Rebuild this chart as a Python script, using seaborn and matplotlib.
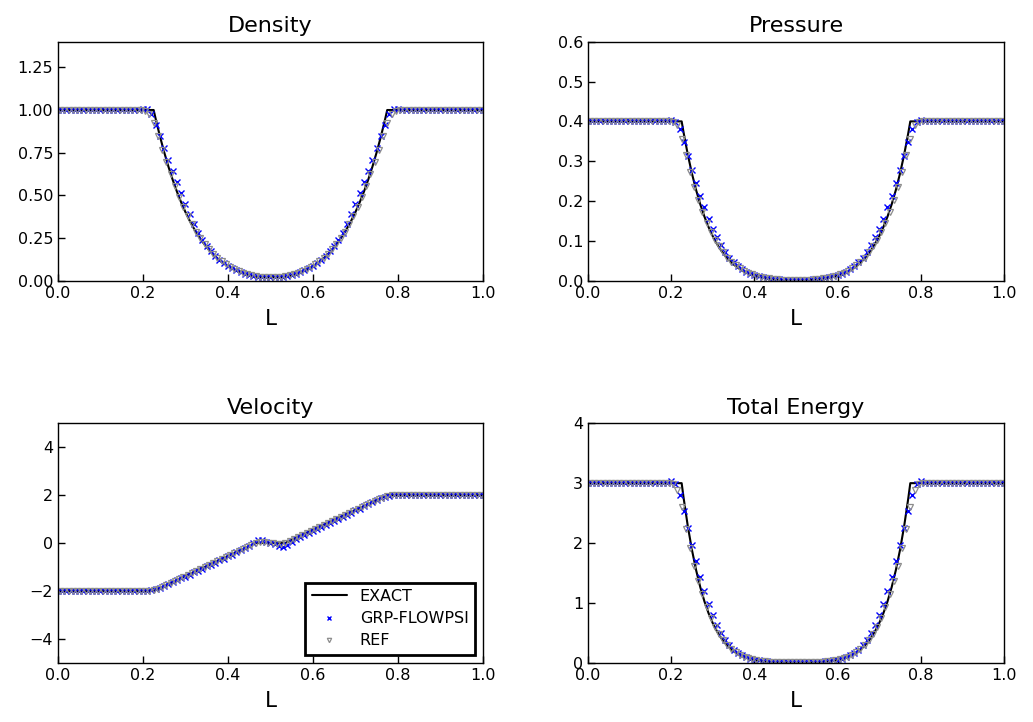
import numpy as np
import matplotlib
matplotlib.use("Agg")
import matplotlib.pyplot as plt
from matplotlib.ticker import FormatStrFormatter
import seaborn as sns

# ---------------------------------------------------------------------------
# Data: 1D double-rarefaction test, exact solution and two numerical schemes
# ---------------------------------------------------------------------------

# Exact solution sampled along the domain
x_exact = [0.0, 0.2252, 0.23, 0.24, 0.25, 0.26, 0.27, 0.28, 0.29, 0.30, 0.31,
           0.32, 0.33, 0.34, 0.35, 0.36, 0.37, 0.38, 0.39, 0.40, 0.41, 0.42,
           0.43, 0.44, 0.45, 0.46, 0.4652, 0.5348, 0.54, 0.55, 0.56, 0.57,
           0.58, 0.59, 0.60, 0.61, 0.62, 0.63, 0.64, 0.65, 0.66, 0.67, 0.68,
           0.69, 0.70, 0.71, 0.72, 0.73, 0.74, 0.75, 0.76, 0.77, 0.7748, 1.0]

rho_exact = [1.0, 1.0, 0.9477, 0.8457, 0.7527, 0.6681, 0.5912, 0.5216, 0.4587,
             0.4020, 0.3511, 0.3055, 0.2647, 0.2284, 0.1962, 0.1678, 0.1427,
             0.1208, 0.1016, 0.0849, 0.0705, 0.0581, 0.0476, 0.0386, 0.0310,
             0.0247, 0.0219, 0.0219, 0.0247, 0.0310, 0.0386, 0.0476, 0.0581,
             0.0705, 0.0849, 0.1016, 0.1208, 0.1427, 0.1678, 0.1962, 0.2284,
             0.2647, 0.3055, 0.3511, 0.4020, 0.4587, 0.5216, 0.5912, 0.6681,
             0.7527, 0.8457, 0.9477, 1.0, 1.0]

p_exact = [0.4, 0.4, 0.3710, 0.3163, 0.2687, 0.2274, 0.1916, 0.1608, 0.1343,
           0.1117, 0.0924, 0.0760, 0.0622, 0.0506, 0.0409, 0.0329, 0.0262,
           0.0207, 0.0163, 0.0127, 0.0098, 0.0075, 0.0056, 0.0042, 0.0031,
           0.0022, 0.0019, 0.0019, 0.0022, 0.0031, 0.0042, 0.0056, 0.0075,
           0.0098, 0.0127, 0.0163, 0.0207, 0.0262, 0.0329, 0.0409, 0.0506,
           0.0622, 0.0760, 0.0924, 0.1117, 0.1343, 0.1608, 0.1916, 0.2274,
           0.2687, 0.3163, 0.3710, 0.4, 0.4]

u_exact = [-2.0, -2.0, -1.960, -1.876, -1.793, -1.710, -1.626, -1.543, -1.460,
           -1.376, -1.293, -1.210, -1.126, -1.043, -0.960, -0.876, -0.793,
           -0.710, -0.626, -0.543, -0.460, -0.376, -0.293, -0.210, -0.126,
           -0.043, 0.0, 0.0, 0.043, 0.126, 0.210, 0.293, 0.376, 0.460, 0.543,
           0.626, 0.710, 0.793, 0.876, 0.960, 1.043, 1.126, 1.210, 1.293,
           1.376, 1.460, 1.543, 1.626, 1.710, 1.793, 1.876, 1.960, 2.0, 2.0]

e_exact = [3.0, 3.0, 2.7475, 2.2796, 1.8819, 1.545, 1.261, 1.023, 0.8246,
           0.6601, 0.5245, 0.4136, 0.3235, 0.2508, 0.1927, 0.1466, 0.1104,
           0.0822, 0.0606, 0.0442, 0.0318, 0.0227, 0.0161, 0.0113, 0.0080,
           0.0057, 0.0047, 0.0047, 0.0057, 0.0080, 0.0113, 0.0161, 0.0227,
           0.0318, 0.0442, 0.0606, 0.0822, 0.1104, 0.1466, 0.1927, 0.2508,
           0.3235, 0.4136, 0.5245, 0.6601, 0.8246, 1.023, 1.261, 1.545,
           1.8819, 2.2796, 2.7475, 3.0, 3.0]

# GRP-FLOWPSI results, stored at mesh nodes
x_grp = np.linspace(0.0, 1.0, 101)

rho_grp = ([1.0] * 19 +
           [1.003, 1.008, 1.005, 0.975, 0.915, 0.848, 0.775, 0.708, 0.643,
            0.579, 0.516, 0.450, 0.388, 0.330, 0.281, 0.238, 0.202, 0.172,
            0.146, 0.124, 0.104, 0.087, 0.072, 0.060, 0.049, 0.040, 0.033,
            0.028, 0.024, 0.022, 0.021, 0.021] +
           [0.021, 0.022, 0.024, 0.028, 0.033, 0.040, 0.049, 0.060, 0.072,
            0.087, 0.104, 0.124, 0.146, 0.172, 0.202, 0.238, 0.281, 0.330,
            0.388, 0.450, 0.516, 0.579, 0.643, 0.708, 0.775, 0.848, 0.915,
            0.975, 1.005, 1.008, 1.003] +
           [1.0] * 19)

p_grp = ([0.4] * 19 +
         [0.402, 0.404, 0.399, 0.381, 0.348, 0.314, 0.279, 0.245, 0.212,
          0.184, 0.156, 0.131, 0.110, 0.090, 0.071, 0.058, 0.046, 0.037,
          0.029, 0.023, 0.018, 0.014, 0.011, 0.0085, 0.0066, 0.0052, 0.0041,
          0.0033, 0.0028, 0.0025, 0.0024, 0.0024] +
         [0.0024, 0.0025, 0.0028, 0.0033, 0.0041, 0.0052, 0.0066, 0.0085,
          0.011, 0.014, 0.018, 0.023, 0.029, 0.037, 0.046, 0.058, 0.071,
          0.090, 0.110, 0.131, 0.156, 0.184, 0.212, 0.245, 0.279, 0.314,
          0.348, 0.381, 0.399, 0.404, 0.402] +
         [0.4] * 19)

u_grp = ([-2.0] * 19 +
         [-2.0, -2.0, -1.99, -1.96, -1.92, -1.86, -1.79, -1.72, -1.64, -1.56,
          -1.48, -1.40, -1.32, -1.23, -1.15, -1.07, -0.98, -0.90, -0.82,
          -0.73, -0.65, -0.56, -0.48, -0.39, -0.30, -0.21, -0.11, 0.01, 0.12,
          0.11, 0.05, 0.0] +
         [-0.05, -0.11, -0.15, -0.09, 0.04, 0.15, 0.24, 0.33, 0.42, 0.51,
          0.59, 0.68, 0.76, 0.85, 0.93, 1.02, 1.10, 1.19, 1.27, 1.36, 1.44,
          1.53, 1.61, 1.70, 1.78, 1.86, 1.93, 1.97, 1.99, 2.0, 2.0] +
         [2.0] * 19)

e_grp = ([3.0] * 19 +
         [3.01, 3.03, 2.99, 2.80, 2.54, 2.25, 1.97, 1.70, 1.44, 1.20, 0.98,
          0.80, 0.63, 0.49, 0.38, 0.29, 0.22, 0.165, 0.125, 0.093, 0.069,
          0.051, 0.038, 0.028, 0.021, 0.016, 0.012, 0.0095, 0.0078, 0.0068,
          0.0063, 0.0062] +
         [0.0063, 0.0068, 0.0078, 0.0095, 0.012, 0.016, 0.021, 0.028, 0.038,
          0.051, 0.069, 0.093, 0.125, 0.165, 0.22, 0.29, 0.38, 0.49, 0.63,
          0.80, 0.98, 1.20, 1.44, 1.70, 1.97, 2.25, 2.54, 2.80, 2.99, 3.03,
          3.01] +
         [3.0] * 19)

# Reference scheme, stored at cell centres
x_ref = np.linspace(0.005, 0.995, 100)

rho_ref = ([1.0] * 19 +
           [0.999, 0.995, 0.975, 0.922, 0.846, 0.768, 0.698, 0.628, 0.557,
            0.491, 0.432, 0.378, 0.330, 0.287, 0.249, 0.215, 0.185, 0.158,
            0.135, 0.114, 0.096, 0.081, 0.067, 0.056, 0.046, 0.038, 0.032,
            0.027, 0.024, 0.023, 0.022] +
           [0.022, 0.023, 0.024, 0.027, 0.032, 0.038, 0.046, 0.056, 0.067,
            0.081, 0.096, 0.114, 0.135, 0.158, 0.185, 0.215, 0.249, 0.287,
            0.330, 0.378, 0.432, 0.491, 0.557, 0.628, 0.698, 0.768, 0.846,
            0.922, 0.975, 0.995, 0.999] +
           [1.0] * 19)

p_ref = ([0.4] * 19 +
         [0.401, 0.399, 0.390, 0.355, 0.315, 0.274, 0.236, 0.202, 0.172,
          0.146, 0.123, 0.103, 0.086, 0.071, 0.058, 0.048, 0.039, 0.031,
          0.025, 0.020, 0.016, 0.012, 0.0095, 0.0073, 0.0057, 0.0045, 0.0036,
          0.0030, 0.0027, 0.0025, 0.0025] +
         [0.0025, 0.0025, 0.0027, 0.0030, 0.0036, 0.0045, 0.0057, 0.0073,
          0.0095, 0.012, 0.016, 0.020, 0.025, 0.031, 0.039, 0.048, 0.058,
          0.071, 0.086, 0.103, 0.123, 0.146, 0.172, 0.202, 0.236, 0.274,
          0.315, 0.355, 0.390, 0.399, 0.401] +
         [0.4] * 19)

u_ref = ([-2.0] * 19 +
         [-2.0, -2.0, -1.99, -1.96, -1.90, -1.83, -1.75, -1.665, -1.58,
          -1.50, -1.415, -1.33, -1.25, -1.165, -1.08, -1.00, -0.915, -0.83,
          -0.75, -0.665, -0.58, -0.50, -0.415, -0.33, -0.245, -0.16, -0.07,
          0.02, 0.06, 0.04, 0.01] +
         [-0.01, -0.04, -0.06, -0.02, 0.07, 0.16, 0.245, 0.33, 0.415, 0.50,
          0.58, 0.665, 0.75, 0.83, 0.915, 1.00, 1.08, 1.165, 1.25, 1.33,
          1.415, 1.50, 1.58, 1.665, 1.75, 1.83, 1.90, 1.96, 1.99, 2.0, 2.0] +
         [2.0] * 19)

e_ref = ([3.0] * 19 +
         [3.0, 2.99, 2.88, 2.61, 2.24, 1.91, 1.61, 1.36, 1.14, 0.93, 0.75,
          0.60, 0.475, 0.375, 0.29, 0.225, 0.173, 0.132, 0.10, 0.075, 0.056,
          0.042, 0.031, 0.023, 0.017, 0.013, 0.010, 0.008, 0.0068, 0.0063,
          0.0062] +
         [0.0062, 0.0063, 0.0068, 0.008, 0.010, 0.013, 0.017, 0.023, 0.031,
          0.042, 0.056, 0.075, 0.10, 0.132, 0.173, 0.225, 0.29, 0.375, 0.475,
          0.60, 0.75, 0.93, 1.14, 1.36, 1.61, 1.91, 2.24, 2.61, 2.88, 2.99,
          3.0] +
         [3.0] * 19)

titles = ["Density", "Pressure", "Velocity", "Total Energy"]
exact_series = [rho_exact, p_exact, u_exact, e_exact]
grp_series = [rho_grp, p_grp, u_grp, e_grp]
ref_series = [rho_ref, p_ref, u_ref, e_ref]
y_limits = [(0.0, 1.4), (0.0, 0.6), (-5.0, 5.0), (0.0, 4.0)]
y_ticks = [[0.0, 0.25, 0.5, 0.75, 1.0, 1.25],
           [0.0, 0.1, 0.2, 0.3, 0.4, 0.5, 0.6],
           [-4, -2, 0, 2, 4],
           [0, 1, 2, 3, 4]]
y_formats = ["%.2f", "%.1f", None, "%d"]
x_ticks = [0.0, 0.2, 0.4, 0.6, 0.8, 1.0]

# ---------------------------------------------------------------------------
# Figure
# ---------------------------------------------------------------------------
sns.set_theme(style="ticks")
plt.rcParams["font.family"] = ["DejaVu Sans"]
plt.rcParams["text.color"] = "black"
plt.rcParams["axes.labelcolor"] = "black"
plt.rcParams["xtick.color"] = "black"
plt.rcParams["ytick.color"] = "black"

fig = plt.figure(figsize=(10.33, 7.22), dpi=100)
rects = [
    [0.0561, 0.6112, 0.4114, 0.3310],
    [0.5692, 0.6112, 0.4027, 0.3310],
    [0.0561, 0.0821, 0.4114, 0.3316],
    [0.5692, 0.0821, 0.4027, 0.3316],
]

ref_grey = "#8c8c8c"

for i, rect in enumerate(rects):
    ax = fig.add_axes(rect)
    sns.lineplot(x=x_exact, y=exact_series[i], ax=ax, color="black",
                 linewidth=1.5, estimator=None, sort=False, label="EXACT")
    sns.lineplot(x=x_grp, y=grp_series[i], ax=ax, color="blue",
                 estimator=None, sort=False, linestyle="", marker="x",
                 markersize=4.5, markeredgecolor="blue",
                 markeredgewidth=1.0, label="GRP-FLOWPSI")
    sns.lineplot(x=x_ref, y=ref_series[i], ax=ax, color=ref_grey,
                 estimator=None, sort=False, linestyle="", marker="v",
                 markersize=4.8, markerfacecolor="none",
                 markeredgecolor=ref_grey, markeredgewidth=0.9, label="REF")

    ax.set_xlim(0.0, 1.0)
    ax.set_ylim(*y_limits[i])
    ax.set_xticks(x_ticks)
    ax.set_yticks(y_ticks[i])
    ax.xaxis.set_major_formatter(FormatStrFormatter("%.1f"))
    if y_formats[i] is not None:
        ax.yaxis.set_major_formatter(FormatStrFormatter(y_formats[i]))
    ax.tick_params(direction="in", length=5, width=1, labelsize=11.5,
                   bottom=True, left=True, top=False, right=False,
                   colors="black")
    for side in ax.spines.values():
        side.set_visible(True)
        side.set_color("black")
        side.set_linewidth(1.0)
    ax.set_title(titles[i], fontsize=16, color="black", pad=7)
    ax.set_xlabel("L", fontsize=15.5, labelpad=6)
    ax.set_ylabel("")

    if titles[i] == "Velocity":
        leg = ax.legend(loc="lower right", fontsize=11.5, frameon=True,
                        fancybox=False, framealpha=1.0, edgecolor="black",
                        markerscale=0.65, handlelength=2.2,
                        labelspacing=0.45)
        leg.get_frame().set_linewidth(2.0)
    else:
        ax.get_legend().remove()

fig.savefig("out.png", dpi=100)
